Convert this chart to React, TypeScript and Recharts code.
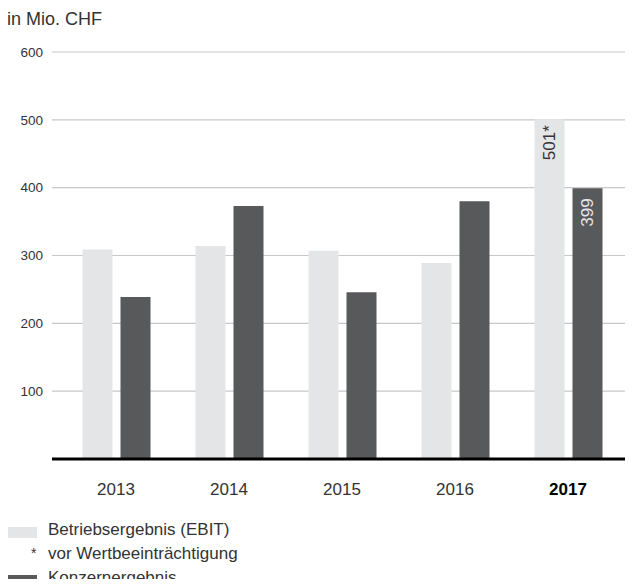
import React from 'react'
import { BarChart, Bar, XAxis, YAxis, CartesianGrid, ReferenceLine, LabelList } from 'recharts'

const years = ['2013', '2014', '2015', '2016', '2017']
const ebit = [309, 314, 307, 289, 501]
const konzern = [239, 373, 246, 380, 399]
const ebitLabels = ['', '', '', '', '501*']
const konzernLabels = ['', '', '', '', '399']
const yTicks = [100, 200, 300, 400, 500, 600]

const data = years.map((year, i) => ({
  year,
  ebit: ebit[i],
  konzern: konzern[i],
  ebitLabel: ebitLabels[i],
  konzernLabel: konzernLabels[i],
}))

const LIGHT = '#e4e5e6'
const DARK = '#58595b'
const TEXT = '#333'
const FONT = '"Liberation Sans", Arial, Helvetica, sans-serif'

function YearTick({ x, y, payload }: any) {
  const bold = payload.value === '2017'
  return (
    <text
      x={x}
      y={y}
      dy="0.71em"
      textAnchor="middle"
      fontSize={17}
      fontWeight={bold ? 700 : 400}
      fill={bold ? '#000' : TEXT}
      fontFamily={FONT}
    >
      {payload.value}
    </text>
  )
}

function barLabel(color: string, offset: number) {
  return (props: any) => {
    const { x, y, width, value } = props
    if (!value) return null
    const cx = x + width / 2
    const ty = y + offset
    return (
      <text
        x={cx}
        y={ty}
        transform={`rotate(-90 ${cx} ${ty})`}
        textAnchor="end"
        dominantBaseline="central"
        fontSize={17}
        fill={color}
        fontFamily={FONT}
      >
        {value}
      </text>
    )
  }
}

const legendRows = [
  { swatch: LIGHT, marker: '', text: 'Betriebsergebnis (EBIT)' },
  { swatch: '', marker: '*', text: 'vor Wertbeeinträchtigung' },
  { swatch: DARK, marker: '', text: 'Konzernergebnis' },
]

export default function App() {
  return (
    <div style={{ position: 'relative', width: 633, height: 587, margin: -8, fontFamily: FONT, color: TEXT }}>
      <div style={{ position: 'absolute', left: 7, top: 9, fontSize: 18, lineHeight: '20px' }}>in Mio. CHF</div>
      <div style={{ position: 'absolute', left: 0, top: 0 }}>
        <BarChart
          width={633}
          height={510}
          data={data}
          margin={{ top: 52, right: 0, bottom: 0, left: 0 }}
          barSize={30}
          barGap={8}
        >
          <CartesianGrid horizontal vertical={false} stroke="#c8c8c8" strokeWidth={1.2} />
          <XAxis
            dataKey="year"
            axisLine={false}
            tickLine={false}
            tickSize={0}
            tickMargin={24}
            height={51}
            padding={{ left: 7.5, right: 8.5 }}
            tick={<YearTick />}
            interval={0}
          />
          <YAxis
            domain={[0, 600]}
            ticks={yTicks}
            width={52}
            axisLine={false}
            tickLine={false}
            tickSize={0}
            tickMargin={9}
            tick={{ fill: TEXT, fontSize: 13.5, fontFamily: FONT }}
          />
          <Bar dataKey="ebit" fill={LIGHT} isAnimationActive={false}>
            <LabelList dataKey="ebitLabel" content={barLabel('#333', 6)} />
          </Bar>
          <Bar dataKey="konzern" fill={DARK} isAnimationActive={false}>
            <LabelList dataKey="konzernLabel" content={barLabel('#e6e6e6', 10)} />
          </Bar>
          <ReferenceLine y={0} stroke="#000" strokeWidth={3} />
        </BarChart>
      </div>
      {legendRows.map((row, i) => (
        <div
          key={row.text}
          style={{ position: 'absolute', left: 0, top: 520 + i * 24, height: 20, width: 400, fontSize: 17, lineHeight: '20px' }}
        >
          {row.swatch && (
            <div style={{ position: 'absolute', left: 6, top: 7, width: 31, height: 11, background: row.swatch }} />
          )}
          {row.marker && <span style={{ position: 'absolute', left: 31, top: -1, fontSize: 14 }}>{row.marker}</span>}
          <span style={{ position: 'absolute', left: 48, top: 0, whiteSpace: 'nowrap' }}>{row.text}</span>
        </div>
      ))}
    </div>
  )
}
